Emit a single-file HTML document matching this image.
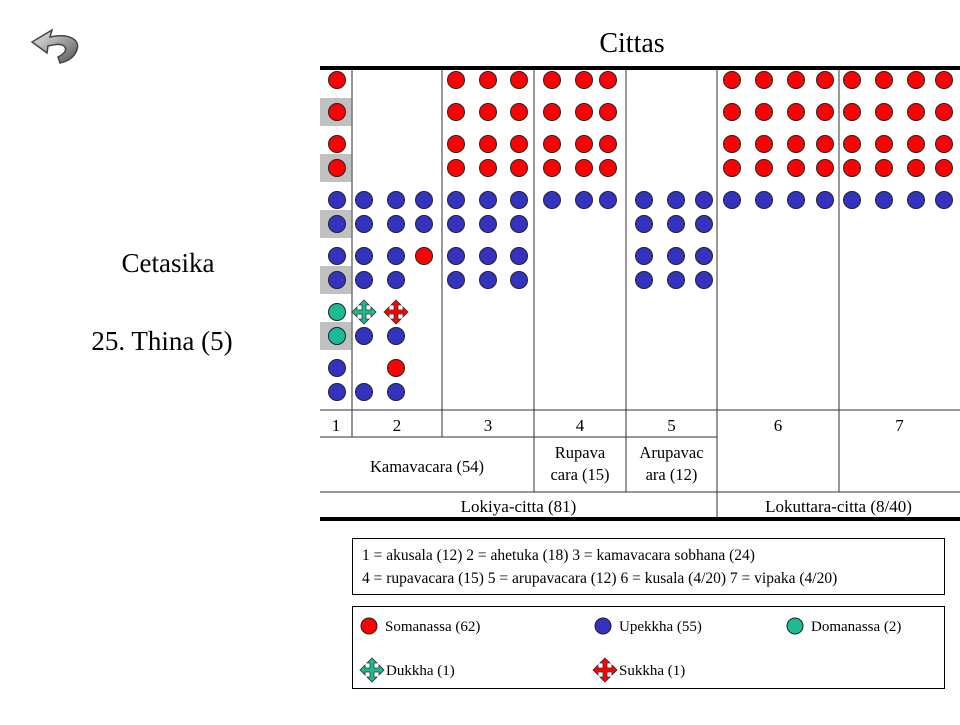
<!DOCTYPE html>
<html><head><meta charset="utf-8"><style>
body{margin:0;background:#fff;width:960px;height:720px;overflow:hidden}
svg text{font-family:"Liberation Serif",serif;fill:#000}
</style></head><body>
<svg id="chart" width="960" height="720" viewBox="0 0 960 720" xmlns="http://www.w3.org/2000/svg">
<defs>
<linearGradient id="ag" x1="0" y1="0" x2="1" y2="1"><stop offset="0" stop-color="#eee"/><stop offset="1" stop-color="#555"/></linearGradient>
</defs>
<g>
<path d="M32 42 L52 30 L50 37 C70 33 82 40 76 52 C72 60 64 62 60 63 L58 57 C64 54 68 50 64 46 C60 43 54 45 48 46 L47 53 Z" fill="url(#ag)" stroke="#444" stroke-width="1.5"/>
</g>
<text x="632" y="52" font-size="28" text-anchor="middle">Cittas</text>
<text x="168" y="272" font-size="27" text-anchor="middle">Cetasika</text>
<text x="162" y="350" font-size="27" text-anchor="middle">25. Thina (5)</text>
<g id="bands"></g>
<g id="grid"></g>
<g id="marks"></g>
<g>
<rect x="352.5" y="538.5" width="592" height="56" fill="none" stroke="#000"/>
<text x="362" y="560" font-size="15.5">1 = akusala (12) 2 = ahetuka (18) 3 = kamavacara sobhana (24)</text>
<text x="362" y="583" font-size="15.5">4 = rupavacara (15) 5 = arupavacara (12) 6 = kusala (4/20) 7 = vipaka (4/20)</text>
</g>
<g id="legend">
<rect x="352.5" y="606.5" width="592" height="82" fill="none" stroke="#000"/>
</g>
</svg>
<script>
const columns = ["1","2","3","4","5","6","7"];
const colLabels = ["1","2","3","4","5","6","7"];
const groupLabels = ["Kamavacara (54)","Rupava|cara (15)","Arupavac|ara (12)"];
const topLabels = ["Lokiya-citta (81)","Lokuttara-citta (8/40)"];
// each mark: [column index, slot index, row index, type]  type: S=somanassa U=upekkha D=domanassa d=dukkha s=sukkha
const marksCol1 = [[0,0,0,"S"],[0,0,1,"S"],[0,0,2,"S"],[0,0,3,"S"],[0,0,4,"U"],[0,0,5,"U"],[0,0,6,"U"],[0,0,7,"U"],[0,0,8,"D"],[0,0,9,"D"],[0,0,10,"U"],[0,0,11,"U"]];
const marksCol2 = [[1,0,4,"U"],[1,1,4,"U"],[1,2,4,"U"],[1,0,5,"U"],[1,1,5,"U"],[1,2,5,"U"],[1,0,6,"U"],[1,1,6,"U"],[1,2,6,"S"],[1,0,7,"U"],[1,1,7,"U"],[1,0,8,"d"],[1,1,8,"s"],[1,0,9,"U"],[1,1,9,"U"],[1,1,10,"S"],[1,0,11,"U"],[1,1,11,"U"]];
const marksCol3 = [[2,0,0,"S"],[2,1,0,"S"],[2,2,0,"S"],[2,0,1,"S"],[2,1,1,"S"],[2,2,1,"S"],[2,0,2,"S"],[2,1,2,"S"],[2,2,2,"S"],[2,0,3,"S"],[2,1,3,"S"],[2,2,3,"S"],[2,0,4,"U"],[2,1,4,"U"],[2,2,4,"U"],[2,0,5,"U"],[2,1,5,"U"],[2,2,5,"U"],[2,0,6,"U"],[2,1,6,"U"],[2,2,6,"U"],[2,0,7,"U"],[2,1,7,"U"],[2,2,7,"U"]];
const marksCol4 = [[3,0,0,"S"],[3,1,0,"S"],[3,2,0,"S"],[3,0,1,"S"],[3,1,1,"S"],[3,2,1,"S"],[3,0,2,"S"],[3,1,2,"S"],[3,2,2,"S"],[3,0,3,"S"],[3,1,3,"S"],[3,2,3,"S"],[3,0,4,"U"],[3,1,4,"U"],[3,2,4,"U"]];
const marksCol5 = [[4,0,4,"U"],[4,1,4,"U"],[4,2,4,"U"],[4,0,5,"U"],[4,1,5,"U"],[4,2,5,"U"],[4,0,6,"U"],[4,1,6,"U"],[4,2,6,"U"],[4,0,7,"U"],[4,1,7,"U"],[4,2,7,"U"]];
const marksCol6 = [[5,0,0,"S"],[5,1,0,"S"],[5,2,0,"S"],[5,3,0,"S"],[5,0,1,"S"],[5,1,1,"S"],[5,2,1,"S"],[5,3,1,"S"],[5,0,2,"S"],[5,1,2,"S"],[5,2,2,"S"],[5,3,2,"S"],[5,0,3,"S"],[5,1,3,"S"],[5,2,3,"S"],[5,3,3,"S"],[5,0,4,"U"],[5,1,4,"U"],[5,2,4,"U"],[5,3,4,"U"]];
const marksCol7 = [[6,0,0,"S"],[6,1,0,"S"],[6,2,0,"S"],[6,3,0,"S"],[6,0,1,"S"],[6,1,1,"S"],[6,2,1,"S"],[6,3,1,"S"],[6,0,2,"S"],[6,1,2,"S"],[6,2,2,"S"],[6,3,2,"S"],[6,0,3,"S"],[6,1,3,"S"],[6,2,3,"S"],[6,3,3,"S"],[6,0,4,"U"],[6,1,4,"U"],[6,2,4,"U"],[6,3,4,"U"]];
const legendNames = ["Somanassa (62)","Upekkha (55)","Domanassa (2)","Dukkha (1)","Sukkha (1)"];
const legendTypes = ["S","U","D","d","s"];

const NS="http://www.w3.org/2000/svg";
const COLOR={S:"#ff0000",U:"#3333c0",D:"#1abc94",d:"#1abc94",s:"#ff0000"};
const colEdges=[320,352,442,534,626,717,839,960];
const slotX=[[337],[364,396,424],[456,488,519],[552,584,608],[644,676,704],[732,764,796,825],[852,884,916,944]];
const rowY=[80,112,144,168,200,224,256,280,312,336,368,392];
function xScale(c,s){return slotX[c][s];}
function yScale(r){return rowY[r];}
function mk(tag,attrs,parent){const e=document.createElementNS(NS,tag);for(const k in attrs)e.setAttribute(k,attrs[k]);parent.appendChild(e);return e;}
function drawMark(type,x,y,parent){
  let e;
  if(type==="d"||type==="s"){
    const p="M0,-12 L5,-7 L2,-7 L2,-2 L7,-2 L7,-5 L12,0 L7,5 L7,2 L2,2 L2,7 L5,7 L0,12 L-5,7 L-2,7 L-2,2 L-7,2 L-7,5 L-12,0 L-7,-5 L-7,-2 L-2,-2 L-2,-7 L-5,-7 Z";
    e=mk("path",{d:p,transform:`translate(${x},${y})`,fill:COLOR[type],stroke:"#333","stroke-width":0.8},parent);
  } else {
    e=mk("circle",{cx:x,cy:y,r:8.5,fill:COLOR[type],stroke:"#222","stroke-width":1},parent);
  }
  return e;
}
const bands=document.getElementById('bands');
[1,3,5,7,9].forEach(r=>{
  const b=mk("rect",{x:320,y:yScale(r)-14,width:32,height:28,fill:"#c0c0c0"},bands);
  
  
});
const grid=document.getElementById('grid');
function line(x1,y1,x2,y2,w,c){return mk("line",{x1,y1,x2,y2,stroke:c||"#555","stroke-width":w||1.5},grid);}
for(let i=1;i<colEdges.length-1;i++){
  const x=colEdges[i];
  let y2=(i===3||i===4)?492:437;
  if(i===5) y2=519; if(i===6) y2=492;
  const l=line(x,68,x,y2,1.5,"#777");
  
  
}
line(320,68,960,68,4,"#000");
line(320,410,960,410,1,"#333");
line(320,437,717,437,1,"#333");
line(320,492,960,492,1,"#333");
line(320,519,960,519,4,"#000");
columns.forEach((c,i)=>{
  const t=mk("text",{x:(colEdges[i]+colEdges[i+1])/2,y:431,"font-size":17,"text-anchor":"middle"},grid);
  t.textContent=colLabels[i];
  
  
});
const gX=[[320,534],[534,626],[626,717]];
groupLabels.forEach((g,i)=>{
  const parts=g.split("|");const cx=(gX[i][0]+gX[i][1])/2;
  parts.forEach((p,j)=>{
    const y=parts.length===1?472:458+j*22;
    const t=mk("text",{x:cx,y:y,"font-size":16.5,"text-anchor":"middle"},grid);
    t.textContent=p;
    
    
  });
});
[[320,717],[717,960]].forEach((r,i)=>{
  const t=mk("text",{x:(r[0]+r[1])/2,y:512,"font-size":17,"text-anchor":"middle"},grid);
  t.textContent=topLabels[i];
  
  
});
const marks=document.getElementById('marks');
[marksCol1,marksCol2,marksCol3,marksCol4,marksCol5,marksCol6,marksCol7].forEach(arr=>arr.forEach(m=>{
  const e=drawMark(m[3],xScale(m[0],m[1]),yScale(m[2]),marks);
  
  
}));
const legend=document.getElementById('legend');
const lx=[369,603,795,372,605],ly=[626,626,626,670,670];
legendNames.forEach((n,i)=>{
  const g=mk("g",{},legend);
  
  
  const e=drawMark(legendTypes[i],lx[i],ly[i],g);
  if(e.tagName==="circle") e.setAttribute("r",8);
  const t=mk("text",{x:lx[i]+(i<3?16:14),y:ly[i]+5,"font-size":15},g);
  t.textContent=n;
});
</script>
</body></html>
